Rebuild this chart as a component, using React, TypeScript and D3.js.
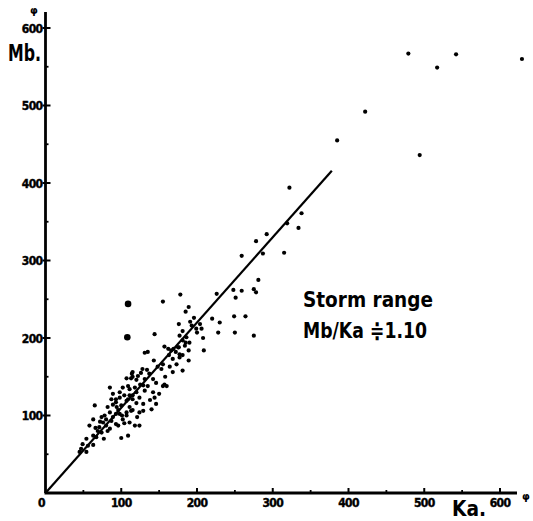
import React from "react";
import * as d3 from "d3";

const xTicks: number[] = [0, 100, 200, 300, 400, 500, 600];
const yTicks: number[] = [100, 200, 300, 400, 500, 600];
const minorTicks: number[] = [50, 150, 250, 350, 450, 550];

// Ka (x) and Mb (y) values of the storm-range observations
const ka: number[] = [
  479, 517, 542, 629, 422, 494, 385, 322, 338, 334, 319, 315, 292, 278, 259, 287,
  281, 275, 278, 259, 248, 251, 226, 178, 155, 249, 264, 220, 230, 228, 250, 275,
  208, 209, 204, 189, 185, 196, 176, 191, 193, 181, 200, 144, 185, 181, 186, 176,
  189, 131, 135, 169, 163, 181, 157, 162, 166, 172, 177, 168, 189, 143, 155, 148,
  153, 164, 173, 181, 168, 134, 126, 137, 114, 115, 107, 120, 131, 142, 146, 155,
  160, 129, 135, 111, 102, 85, 120, 131, 142, 144, 111, 98, 87, 124, 115, 107,
  93, 120, 129, 146, 65, 82, 89, 94, 100, 111, 115, 129, 124, 107, 101, 93,
  85, 78, 89, 74, 80, 87, 76, 63, 104, 96, 80, 71, 85, 66, 74, 63,
  67, 77, 100, 109, 54, 49, 56, 63, 47, 45, 54, 58, 93, 89, 98, 93,
  109, 115, 109, 118, 121, 124, 118, 113, 111, 102, 107, 98, 122, 113, 115, 177,
  199, 206, 190, 175, 184, 177, 140, 96, 72, 82, 69, 125, 104, 138, 150, 158,
  128, 157,
];
const mb: number[] = [
  567, 549, 566, 560, 492, 436, 455, 394, 361, 342, 348, 310, 334, 325, 306, 309,
  275, 263, 259, 261, 262, 252, 257, 256, 247, 228, 228, 225, 220, 207, 207, 203,
  200, 184, 218, 240, 234, 226, 218, 221, 216, 209, 207, 205, 194, 197, 201, 188,
  184, 181, 182, 186, 178, 178, 189, 186, 184, 182, 179, 173, 171, 171, 166, 163,
  160, 163, 166, 158, 156, 159, 155, 154, 154, 150, 148, 146, 147, 147, 142, 138,
  138, 139, 138, 134, 136, 136, 130, 132, 130, 123, 126, 123, 121, 123, 121, 119,
  117, 116, 115, 115, 113, 111, 114, 111, 113, 111, 107, 106, 104, 104, 100, 102,
  104, 100, 98, 98, 95, 93, 91, 95, 90, 87, 87, 85, 83, 84, 78, 74,
  72, 70, 71, 74, 70, 63, 61, 62, 57, 53, 53, 87, 89, 128, 130, 121,
  121, 126, 138, 136, 98, 87, 87, 106, 91, 95, 100, 102, 151, 148, 156, 203,
  212, 212, 194, 188, 190, 175, 108, 107, 92, 80, 80, 140, 126, 120, 128, 150,
  160, 140,
];
// heavier dots
const kaLarge: number[] = [109, 108];
const mbLarge: number[] = [244, 201];

const ratio = 1.1;
const lineEnd = 378;

export default function App() {
  const W = 533;
  const H = 521;
  const x = d3.scaleLinear().domain([0, 600]).range([45.5, 500]);
  const y = d3.scaleLinear().domain([0, 600]).range([493, 28]);
  const line = d3.line<number>().x((d) => x(d)).y((d) => y(d * ratio));
  const font = "'DejaVu Sans Condensed', 'DejaVu Sans', sans-serif";
  const bigFont = "'DejaVu Sans', sans-serif";

  return (
    <svg
      width={W}
      height={H}
      style={{ position: "absolute", left: 0, top: 0, background: "#fff" }}
    >
      <rect x={0} y={0} width={W} height={H} fill="#fff" />
      {/* axes */}
      <line x1={x(0)} y1={y(0)} x2={x(0)} y2={12} stroke="#000" strokeWidth={2.8} />
      <line x1={x(0) - 1} y1={y(0)} x2={517} y2={y(0)} stroke="#000" strokeWidth={2.8} />
      {yTicks.map((t) => (
        <g key={"y" + t}>
          <line x1={x(0) - 3} x2={x(0) + 5} y1={y(t)} y2={y(t)} stroke="#000" strokeWidth={2} />
          <text
            x={x(0) - 3}
            y={y(t) + 4.5}
            textAnchor="end"
            fontFamily={font}
            fontWeight="bold"
            fontSize={12}
            letterSpacing={-0.6}
            fill="#000"
            stroke="#000"
            strokeWidth={0.4}
          >
            {t}
          </text>
        </g>
      ))}
      {minorTicks.map((t) => (
        <line key={"ym" + t} x1={x(0)} x2={x(0) + 3} y1={y(t)} y2={y(t)} stroke="#000" strokeWidth={1.8} />
      ))}
      {xTicks.map((t) => (
        <g key={"x" + t}>
          {t > 0 && (
            <line x1={x(t)} x2={x(t)} y1={y(0)} y2={y(0) - 5} stroke="#000" strokeWidth={2} />
          )}
          <text
            x={t === 0 ? x(t) - 4 : x(t)}
            y={y(0) + 14}
            textAnchor="middle"
            fontFamily={font}
            fontWeight="bold"
            fontSize={12}
            letterSpacing={-0.6}
            fill="#000"
            stroke="#000"
            strokeWidth={0.4}
          >
            {t}
          </text>
        </g>
      ))}
      {minorTicks.map((t) => (
        <line key={"xm" + t} x1={x(t)} x2={x(t)} y1={y(0)} y2={y(0) - 3} stroke="#000" strokeWidth={1.8} />
      ))}
      {/* unit marks */}
      <text x={34} y={14} textAnchor="middle" fontFamily={bigFont} fontWeight="bold" fontSize={10} fill="#000">
        φ
      </text>
      <text x={526} y={500} textAnchor="middle" fontFamily={bigFont} fontWeight="bold" fontSize={10} fill="#000">
        φ
      </text>
      {/* axis titles */}
      <text x={8} y={61} fontFamily={bigFont} fontWeight="bold" fontSize={23} textLength={33} lengthAdjust="spacingAndGlyphs" fill="#000">
        Mb.
      </text>
      <text x={452} y={516} fontFamily={bigFont} fontWeight="bold" fontSize={21} textLength={34} lengthAdjust="spacingAndGlyphs" fill="#000">
        Ka.
      </text>
      {/* regression line */}
      <path d={line([0, lineEnd]) || ""} fill="none" stroke="#000" strokeWidth={2.2} />
      {/* data */}
      {ka.map((k, i) => (
        <circle key={"p" + i} cx={x(k)} cy={y(mb[i])} r={2.1} fill="#000" />
      ))}
      {kaLarge.map((k, i) => (
        <circle key={"L" + i} cx={x(k)} cy={y(mbLarge[i])} r={3.3} fill="#000" />
      ))}
      {/* annotation */}
      <text x={303} y={307} fontFamily={bigFont} fontWeight="bold" fontSize={21} textLength={130} lengthAdjust="spacingAndGlyphs" fill="#000">
        Storm range
      </text>
      <text x={303} y={338} fontFamily={bigFont} fontWeight="bold" fontSize={21} textLength={124} lengthAdjust="spacingAndGlyphs" fill="#000">
        Mb/Ka ≑1.10
      </text>
    </svg>
  );
}
